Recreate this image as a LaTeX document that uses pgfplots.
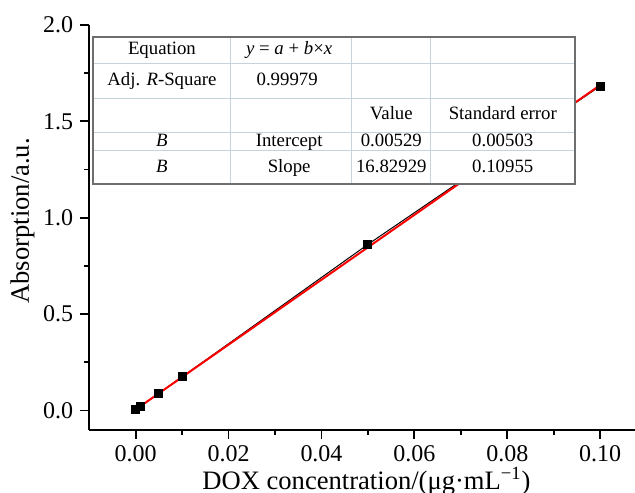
\documentclass[border=0pt]{standalone}
\usepackage{fontspec}
\setmainfont{Liberation Serif}
\usepackage{pgfplots}
\pgfplotsset{compat=1.18}
\definecolor{gridline}{RGB}{197,211,220}
\definecolor{frameline}{RGB}{110,110,110}
\begin{document}
\begin{tikzpicture}
\begin{axis}[
    scale only axis, width=273pt, height=202.5pt,
    xmin=-0.01, xmax=0.1075, ymin=-0.1, ymax=2.0,
    axis x line=bottom, axis y line=left,
    axis line style={-, line width=1pt},
    tick align=outside, major tick length=4.5pt, minor tick length=2.5pt,
    tick style={line width=0.9pt, black},
    xtick={0,0.02,0.04,0.06,0.08,0.1},
    minor xtick={0.01,0.03,0.05,0.07,0.09},
    ytick={0,0.5,1,1.5,2},
    minor ytick={0.25,0.75,1.25,1.75},
    xticklabel={\fontsize{12}{14}\selectfont\pgfmathprintnumber[fixed,fixed zerofill,precision=2,assume math mode=true]{\tick}},
    yticklabel={\fontsize{12}{14}\selectfont\pgfmathprintnumber[fixed,fixed zerofill,precision=1,assume math mode=true]{\tick}},
    xlabel={DOX concentration/(μg·mL\textsuperscript{−1})},
    ylabel={Absorption/a.u.},
    label style={font=\fontsize{13.3}{15}\selectfont},
    xlabel style={at={(axis description cs:0.508,-0.127)}, anchor=center},
    ylabel style={at={(axis description cs:-0.1223,0.516)}, anchor=center},
    clip=false,
]
% measured points
\addplot[black, line width=0.5pt, mark=square*, mark size=2pt] coordinates {
    (0,0.004) (0.001,0.02) (0.005,0.09) (0.01,0.175) (0.05,0.862) (0.1,1.683)};
% linear fit y = 0.00529 + 16.82929 x
\addplot[red, line width=1pt] coordinates {(0,0.00529) (0.1,1.68822)};
\end{axis}
% fit result table
\fill[white] (2pt,123pt) rectangle (242.85pt,196.65pt);
\draw[gridline, line width=0.6pt]
    (2pt,183.35pt) -- (242.85pt,183.35pt)
    (2pt,165.85pt) -- (242.85pt,165.85pt)
    (2pt,148.65pt) -- (242.85pt,148.65pt)
    (2pt,139.65pt) -- (242.85pt,139.65pt)
    (70.7pt,123pt) -- (70.7pt,196.65pt)
    (131.35pt,123pt) -- (131.35pt,196.65pt)
    (170.85pt,123pt) -- (170.85pt,196.65pt);
\draw[frameline, line width=0.9pt] (2pt,123pt) rectangle (242.85pt,196.65pt);
\begin{scope}[every node/.style={inner sep=0pt, anchor=center, text height=6.6pt, text depth=2pt, font=\fontsize{9.4}{11}\selectfont}]
\node at (36.35pt,190pt) {Equation};
\node at (100pt,190pt) {\textit{y} = \textit{a} + \textit{b}×\textit{x}};
\node at (36.35pt,174.6pt) {Adj. \textit{R}-Square};
\node at (99pt,174.6pt) {0.99979};
\node at (151.1pt,157.5pt) {Value};
\node at (206.85pt,157.5pt) {Standard error};
\node at (36.35pt,144.15pt) {\textit{B}};
\node at (100pt,144.15pt) {Intercept};
\node at (151.1pt,144.15pt) {0.00529};
\node at (206.85pt,144.15pt) {0.00503};
\node at (36.35pt,131pt) {\textit{B}};
\node at (100pt,131pt) {Slope};
\node at (151.1pt,131pt) {16.82929};
\node at (206.85pt,131pt) {0.10955};
\end{scope}
\pgfresetboundingbox
\useasboundingbox (-44.65pt,-31.5pt) rectangle (273pt,215pt);
\end{tikzpicture}
\end{document}
